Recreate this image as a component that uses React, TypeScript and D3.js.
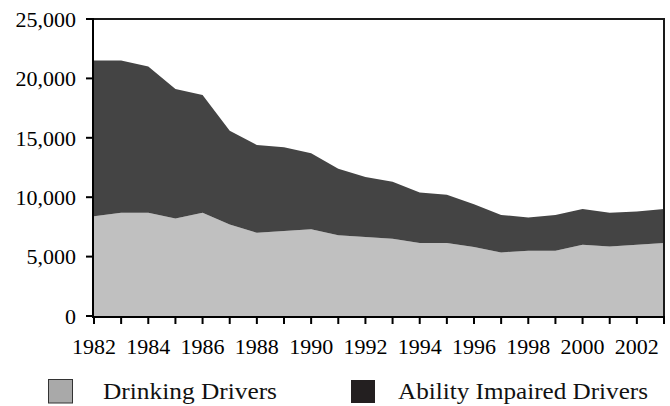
import React from "react";
import * as d3 from "d3";

const years = [1982,1983,1984,1985,1986,1987,1988,1989,1990,1991,1992,1993,1994,1995,1996,1997,1998,1999,2000,2001,2002,2003];
const drinkingDrivers = [8400,8700,8700,8200,8700,7700,7000,7150,7300,6800,6650,6500,6150,6150,5800,5350,5500,5500,6000,5850,6000,6150];
const totalDrivers = [21500,21500,21000,19100,18600,15600,14400,14200,13700,12400,11700,11300,10400,10200,9400,8500,8300,8500,9000,8700,8800,9000];
const abilityImpaired = totalDrivers.map((t, i) => t - drinkingDrivers[i]);
const yTicks = [0,5000,10000,15000,20000,25000];
const xTickLabels = [1982,1984,1986,1988,1990,1992,1994,1996,1998,2000,2002];
const seriesNames = ["Drinking Drivers", "Ability Impaired Drivers"];

export default function App() {
  const W = 670, H = 406;
  const left = 94, right = 664, top = 19, bottom = 316;
  const x = d3.scaleLinear().domain([1982, 2003]).range([left, right]);
  const y = d3.scaleLinear().domain([0, 25000]).range([bottom, top]);
  const rows = years.map((yr, i) => ({ year: yr, drinking: drinkingDrivers[i], ability: abilityImpaired[i] }));
  const stack = d3.stack<any>().keys(["drinking", "ability"])(rows);
  const area = d3.area<any>().x((d) => x(d.data.year)).y0((d) => y(d[0])).y1((d) => y(d[1]));
  const fills = ["#c0c0c0", "#444444"];
  const fontStyle = { fontFamily: "Liberation Serif, DejaVu Serif, serif" };
  return (
    <svg width={W} height={H} style={{ position: "absolute", left: 0, top: 0 }}>
      {stack.map((s, i) => (
        <path key={i} d={area(s) || ""} fill={fills[i]} />
      ))}
      <line x1={left} x2={right} y1={top} y2={top} stroke="#1a1a1a" strokeWidth={2} />
      <line x1={right} x2={right} y1={top - 1} y2={bottom} stroke="#1a1a1a" strokeWidth={2} />
      <line x1={left - 1} x2={left - 1} y1={top - 1} y2={bottom + 1} stroke="#000" strokeWidth={2} />
      <line x1={left - 2} x2={right + 1} y1={bottom + 1} y2={bottom + 1} stroke="#000" strokeWidth={2} />
      {yTicks.map((t) => (
        <g key={t}>
          <line x1={left - 8} x2={left - 1} y1={y(t)} y2={y(t)} stroke="#000" strokeWidth={2} />
          <text x={76} y={y(t)} dy="0.35em" textAnchor="end" style={fontStyle} fontSize={22} fill="#000">
            {d3.format(",")(t)}
          </text>
        </g>
      ))}
      {years.map((yr) => (
        <line key={yr} x1={x(yr)} x2={x(yr)} y1={bottom + 1} y2={bottom + 8} stroke="#000" strokeWidth={2} />
      ))}
      {xTickLabels.map((yr) => (
        <text key={yr} x={x(yr)} y={354} textAnchor="middle" style={fontStyle} fontSize={22} fill="#000">
          {yr}
        </text>
      ))}
      <rect x={48.5} y={379.5} width={24} height={23.5} fill="#a9a9a9" stroke="#333" strokeWidth={1} />
      <text x={103} y={399} style={fontStyle} fontSize={23} textLength={174} lengthAdjust="spacingAndGlyphs" fill="#111">
        {seriesNames[0]}
      </text>
      <rect x={351} y={380} width={24} height={23} fill="#231f20" />
      <text x={398} y={399} style={fontStyle} fontSize={23} textLength={250} lengthAdjust="spacingAndGlyphs" fill="#111">
        {seriesNames[1]}
      </text>
    </svg>
  );
}
